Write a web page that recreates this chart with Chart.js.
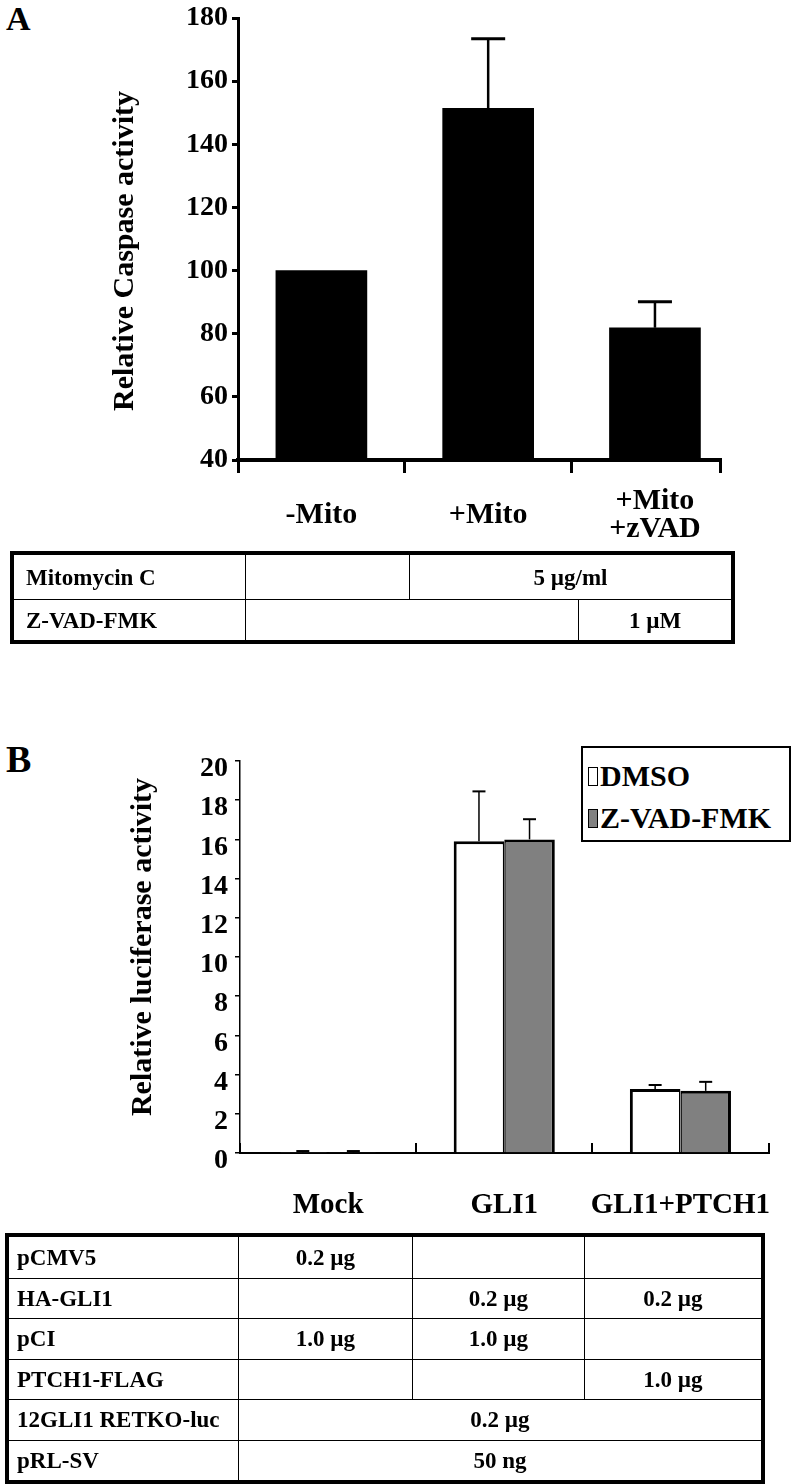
<!DOCTYPE html>
<html>
<head>
<meta charset="utf-8">
<script src="https://cdn.jsdelivr.net/npm/chart.js@4/dist/chart.umd.min.js"></script>
<style>
  html, body { margin: 0; padding: 0; background: #fff; }
  body { width: 792px; height: 1484px; position: relative; overflow: hidden;
         font-family: 'Liberation Serif', 'Times New Roman', serif; font-weight: bold; color: #000; }
  .abs { position: absolute; }
  .plabel { line-height: 1; }
  .grid { position: absolute; box-sizing: border-box; border: 4px solid #000; display: grid; }
  .cell { box-sizing: border-box; display: flex; align-items: center; justify-content: center;
          font-size: 23px; line-height: 1; white-space: nowrap; }
  .cell.lab { justify-content: flex-start; }
  .cell.bl { border-left: 1.5px solid #000; }
  .cell.bt { border-top: 1.5px solid #000; }
  #legB { position: absolute; box-sizing: border-box; border: 2px solid #000; background: #fff;
          left: 581px; top: 746px; width: 210px; height: 96px; padding-top: 7px; }
  .lrow { display: flex; align-items: center; height: 42px; font-size: 30px; line-height: 1; padding-left: 5px; }
  .sw { width: 10px; height: 19px; box-sizing: border-box; border: 1.5px solid #000; margin-right: 2px; }
</style>
</head>
<body>
<div class="abs plabel" style="left:6px;top:2px;font-size:34px">A</div>
<div class="abs plabel" style="left:6px;top:740px;font-size:38px">B</div>
<canvas id="cA" class="abs" width="792" height="560" style="left:0;top:0;width:792px;height:560px"></canvas>
<canvas id="cB" class="abs" width="792" height="500" style="left:0;top:740px;width:792px;height:500px"></canvas>
<div id="tA" class="grid" style="left:10px;top:551px;width:725px;height:93px"></div>
<div id="tB" class="grid" style="left:5px;top:1233px;width:760px;height:251px"></div>
<div id="legB"></div>

<script>
// ---------------- Panel A data ----------------
const categoriesA = ['-Mito', '+Mito', ['+Mito', '+zVAD']];
const caspaseValues = [100, 151.4, 81.9];
const caspaseErrTop = [null, 173.4, 90.1];
const yTitleA = 'Relative Caspase activity';
const tableARowLabels = ['Mitomycin C', 'Z-VAD-FMK'];
const tableACells = [['', '5 µg/ml'], ['', '1 µM']];
const tableASpans = [[1, 2], [2, 1]];

// ---------------- Panel B data ----------------
const categoriesB = ['Mock', 'GLI1', 'GLI1+PTCH1'];
const seriesNamesB = ['DMSO', 'Z-VAD-FMK'];
const seriesColorsB = ['#ffffff', '#808080'];
const dmsoValues = [0.02, 15.9, 3.26];
const dmsoErrTop = [0.1, 18.45, 3.47];
const zvadValues = [0.02, 16.0, 3.17];
const zvadErrTop = [0.1, 17.03, 3.63];
const yTitleB = 'Relative luciferase activity';
const tableBRowLabels = ['pCMV5', 'HA-GLI1', 'pCI', 'PTCH1-FLAG', '12GLI1 RETKO-luc', 'pRL-SV'];
const tableBCells = [
  ['0.2 µg', '', ''],
  ['', '0.2 µg', '0.2 µg'],
  ['1.0 µg', '1.0 µg', ''],
  ['', '', '1.0 µg'],
  ['0.2 µg'],
  ['50 ng']
];

const FAMILY = "'Liberation Serif', 'Times New Roman', serif";
Chart.defaults.font.family = FAMILY;
Chart.defaults.font.weight = 'bold';
Chart.defaults.color = '#000';
Chart.defaults.animation = false;

// error bars (upper only)
const errorBars = {
  id: 'errorBars',
  afterDatasetsDraw(chart, args, o) {
    const ctx = chart.ctx, yS = chart.scales.y;
    chart.data.datasets.forEach((ds, di) => {
      if (!ds.errTop) return;
      chart.getDatasetMeta(di).data.forEach((bar, i) => {
        const e = ds.errTop[i];
        if (e == null) return;
        const yt = yS.getPixelForValue(e);
        ctx.save();
        ctx.strokeStyle = '#000';
        ctx.lineWidth = o.lineWidth;
        ctx.beginPath(); ctx.moveTo(bar.x, bar.y); ctx.lineTo(bar.x, yt); ctx.stroke();
        ctx.lineWidth = o.capWidth;
        ctx.beginPath(); ctx.moveTo(bar.x - o.capSize / 2, yt); ctx.lineTo(bar.x + o.capSize / 2, yt); ctx.stroke();
        ctx.restore();
      });
    });
  }
};

// rotated y-axis title
const yTitle = {
  id: 'yTitle',
  afterDraw(chart, args, o) {
    const ctx = chart.ctx;
    ctx.save();
    ctx.translate(o.x, o.y);
    ctx.rotate(-Math.PI / 2);
    ctx.font = 'bold ' + o.size + 'px ' + FAMILY;
    ctx.fillStyle = '#000';
    ctx.textAlign = 'center';
    ctx.textBaseline = 'middle';
    ctx.fillText(o.text, 0, 0);
    ctx.restore();
  }
};

function fixX(h) {
  return s => { s.height = h; s.paddingLeft = 0; s.paddingRight = 0; };
}

// ---------------- Chart A ----------------
const xTickValsA = [-0.5, 0, 0.5, 1, 1.5, 2, 2.39];
new Chart(document.getElementById('cA'), {
  type: 'bar',
  data: {
    datasets: [{
      data: caspaseValues.map((v, i) => ({ x: i, y: v })),
      errTop: caspaseErrTop,
      backgroundColor: '#000',
      borderWidth: 0,
      barThickness: 91
    }]
  },
  options: {
    responsive: false,
    animation: false,
    layout: { padding: { top: 15, right: 72, left: 0, bottom: 0 } },
    plugins: {
      legend: { display: false },
      tooltip: { enabled: false },
      errorBars: { lineWidth: 2.5, capWidth: 3, capSize: 34 },
      yTitle: { text: yTitleA, x: 125, y: 251, size: 30 }
    },
    scales: {
      x: {
        type: 'linear', min: -0.5, max: 2.39, offset: false,
        afterBuildTicks: s => { s.ticks = xTickValsA.map(v => ({ value: v })); },
        afterFit: fixX(100),
        ticks: {
          autoSkip: false, maxRotation: 0, minRotation: 0, crossAlign: 'center', padding: 28,
          font: { size: 30, lineHeight: 0.95 },
          callback: v => Number.isInteger(v) ? categoriesA[v] : ''
        },
        grid: {
          offset: false, drawOnChartArea: false, tickLength: 13, lineWidth: 3,
          color: c => (c.tick && Number.isInteger(c.tick.value)) ? 'rgba(0,0,0,0)' : '#000'
        },
        border: { color: '#000', width: 4 }
      },
      y: {
        min: 40, max: 180,
        afterFit: s => { s.width = 238; },
        ticks: { stepSize: 20, padding: 4, font: { size: 28, lineHeight: 1 } },
        grid: { drawOnChartArea: false, tickLength: 6, lineWidth: 3, color: '#000' },
        border: { color: '#000', width: 3 }
      }
    }
  },
  plugins: [errorBars, yTitle]
});

// ---------------- Chart B ----------------
new Chart(document.getElementById('cB'), {
  type: 'bar',
  data: {
    labels: categoriesB,
    datasets: [
      { label: seriesNamesB[0], data: dmsoValues, errTop: dmsoErrTop, backgroundColor: seriesColorsB[0],
        borderColor: '#000', borderWidth: { top: 3, left: 3, right: 1.5, bottom: 0 } },
      { label: seriesNamesB[1], data: zvadValues, errTop: zvadErrTop, backgroundColor: seriesColorsB[1],
        borderColor: '#000', borderWidth: { top: 3, left: 1.5, right: 3, bottom: 0 } }
    ]
  },
  options: {
    responsive: false,
    animation: false,
    datasets: { bar: { categoryPercentage: 0.574, barPercentage: 1 } },
    layout: { padding: { top: 16, right: 23.5, left: 0, bottom: 0 } },
    plugins: {
      legend: { display: false },
      tooltip: { enabled: false },
      errorBars: { lineWidth: 1.5, capWidth: 2, capSize: 13 },
      yTitle: { text: yTitleB, x: 143, y: 207, size: 30 }
    },
    scales: {
      x: {
        afterFit: fixX(87),
        ticks: { autoSkip: false, maxRotation: 0, padding: 48.5, font: { size: 29, lineHeight: 1 } },
        grid: { offset: true, drawOnChartArea: false, tickLength: -10, lineWidth: 2, color: '#000' },
        border: { color: '#000', width: 2 }
      },
      y: {
        min: 0, max: 20,
        afterFit: s => { s.width = 240; },
        ticks: { stepSize: 2, padding: 7, labelOffset: 8, font: { size: 28, lineHeight: 1 } },
        grid: { drawOnChartArea: false, tickLength: 5, lineWidth: 1.5, color: '#000' },
        border: { color: '#000', width: 1.5 }
      }
    }
  },
  plugins: [errorBars, yTitle]
});

// ---------------- Legend B ----------------
const leg = document.getElementById('legB');
seriesNamesB.forEach((n, i) => {
  const row = document.createElement('div');
  row.className = 'lrow';
  const sw = document.createElement('div');
  sw.className = 'sw';
  sw.style.background = seriesColorsB[i];
  const tx = document.createElement('span');
  tx.textContent = n;
  row.appendChild(sw); row.appendChild(tx);
  leg.appendChild(row);
});

// ---------------- Tables ----------------
function buildTable(el, labels, cells, spans, cols, rows, padLeft) {
  el.style.gridTemplateColumns = cols.map(c => c + 'px').join(' ');
  el.style.gridTemplateRows = rows.map(r => r + 'px').join(' ');
  labels.forEach((lab, r) => {
    const lc = document.createElement('div');
    lc.className = 'cell lab' + (r > 0 ? ' bt' : '');
    lc.style.paddingLeft = padLeft + 'px';
    lc.textContent = lab;
    el.appendChild(lc);
    const rowCells = cells[r];
    const rowSpans = spans ? spans[r] : (rowCells.length === 1 ? [3] : rowCells.map(() => 1));
    rowCells.forEach((t, k) => {
      const c = document.createElement('div');
      c.className = 'cell bl' + (r > 0 ? ' bt' : '');
      c.style.gridColumn = 'span ' + rowSpans[k];
      c.textContent = t;
      el.appendChild(c);
    });
  });
}
buildTable(document.getElementById('tA'), tableARowLabels, tableACells, tableASpans,
  [231, 164, 169, 153], [44, 41], 12);
buildTable(document.getElementById('tB'), tableBRowLabels, tableBCells, null,
  [229, 174, 172, 177], [40.5, 40.5, 40.5, 40.5, 40.5, 40.5], 8);
</script>
</body>
</html>
